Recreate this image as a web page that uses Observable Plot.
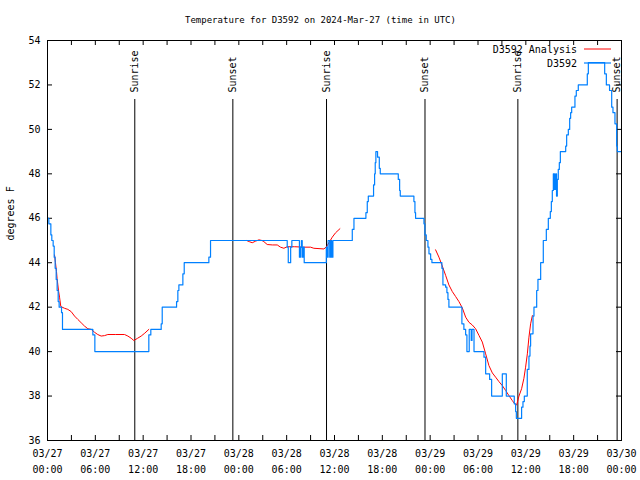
<!DOCTYPE html>
<html>
<head>
<meta charset="utf-8">
<script src="https://cdn.jsdelivr.net/npm/d3@7"></script>
<script src="https://cdn.jsdelivr.net/npm/@observablehq/plot@0.6"></script>
<style>
  html, body { margin: 0; padding: 0; background: white; }
</style>
</head>
<body>
<div id="chart"></div>
<script>
// ---- data (hours since 2024-03-27 00:00 UTC, degrees F) ----
const titleText = "Temperature for D3592 on 2024-Mar-27 (time in UTC)";
const yLabel = "degrees F";
const seriesNames = ["D3592 Analysis", "D3592"];

const xTickHours = [0, 6, 12, 18, 24, 30, 36, 42, 48, 54, 60, 66, 72];
const xTickDates = ["03/27","03/27","03/27","03/27","03/28","03/28","03/28","03/28","03/29","03/29","03/29","03/29","03/30"];
const xTickTimes = ["00:00","06:00","12:00","18:00","00:00","06:00","12:00","18:00","00:00","06:00","12:00","18:00","00:00"];
const xMinorHours = [0,3,6,9,12,15,18,21,24,27,30,33,36,39,42,45,48,51,54,57,60,63,66,69,72];
const yTicks = [36, 38, 40, 42, 44, 46, 48, 50, 52, 54];

const sunHours = [10.95, 23.25, 35.0, 47.35, 59.0, 71.45];
const sunLabels = ["Sunrise", "Sunset", "Sunrise", "Sunset", "Sunrise", "Sunset"];

// observed station temperature (step data)
const observed = [
  [0,46],[0.17,45.75],[0.42,45.25],[0.54,45],[0.71,44.75],[0.84,44.25],[0.96,43.75],[1.09,43.25],
  [1.21,42.75],[1.34,42.25],[1.46,42],[1.76,41.75],[1.88,41],[5.69,40.75],[5.94,40],[12.71,40.75],
  [12.96,41],[14.26,41.25],[14.39,42],[16.19,42.25],[16.35,42.75],[16.48,43],[16.98,43.5],[17.15,44],
  [20.24,44.25],[20.45,45],
  [30.07,44.7],[30.2,44],[30.5,44.7],[30.65,45],[31.6,44.25],[31.75,44.7],[31.85,45],[31.95,44.25],
  [32.1,44.7],[32.2,44],[34.97,44.7],[35.1,44.25],[35.2,45],[35.4,44.25],[35.55,45],[35.65,44.25],[35.8,45],
  [38.23,45.5],[38.44,46],[39.94,46.25],[40.11,46.75],[40.24,47],[40.9,47.5],[41.03,48],[41.11,48.5],
  [41.19,49],[41.4,48.75],[41.62,48.25],[41.74,48],[44.0,47.75],[44.17,47.25],[44.25,47],[45.96,46.75],
  [46.09,46.25],[46.17,46],[47.22,45.75],[47.34,45.25],[47.51,45],[47.72,44.7],[47.85,44.4],[48.06,44.15],[48.22,44],
  [49.47,43.75],[49.6,43],[49.94,42.9],[50.1,42.65],[50.23,42.35],[50.35,42],[51.98,41.25],[52.23,41],
  [52.45,40.75],[52.61,40],[52.9,41],[53.15,40.5],[53.25,41],[53.5,40],[54.75,39.75],[54.96,39],
  [55.46,38.75],[55.71,38],[57.05,39],[57.55,38],[58.55,37.65],[58.72,37.3],[58.81,37],[59.47,37.5],
  [59.64,37.75],[59.81,38],
  [60.18,39.2],[60.39,39.8],[60.52,40.25],[60.6,40.8],[60.9,41.6],[61.02,42],[61.36,42.75],[61.52,43.25],
  [61.86,44],[62.19,45],[62.57,45.5],[62.82,46],[63.07,46.3],[63.2,46.75],[63.32,47.25],[63.45,48],
  [63.6,47.3],[63.75,48],[63.85,47],[63.95,47.75],[64.07,48.2],[64.2,48.5],[64.33,49],
  [65.0,49.25],[65.12,49.75],[65.33,50],[65.5,50.5],[65.62,50.75],[65.75,51],[66.16,51.5],[66.33,51.75],
  [66.58,52],[67.71,52.5],[67.84,53],[69.89,52.5],[70.1,52],[70.5,51.75],[70.77,51],[70.93,50.75],
  [71.18,50.25],[71.39,49.25],[71.48,49],[72,49]
];

// analysis (three separate segments)
const analysis1 = [
  [0.88,44.35],[1.0,44.0],[1.13,43.6],[1.2,43.3],[1.3,43.0],[1.4,42.7],[1.51,42.45],[1.67,42.03],
  [2.13,41.95],[2.55,41.9],[2.97,41.8],[3.39,41.6],[3.8,41.45],[4.22,41.3],[4.64,41.15],[5.06,41.03],
  [5.48,41.0],[5.9,40.87],[6.3,40.77],[6.73,40.7],[7.15,40.72],[7.57,40.77],[8.5,40.77],[9.66,40.77],
  [10.08,40.7],[10.5,40.6],[10.83,40.5],[11.3,40.6],[11.75,40.7],[12.2,40.83],[12.71,41.0]
];
const analysis2 = [
  [24.97,45.0],[25.3,44.95],[25.68,44.9],[26.1,44.97],[26.52,45.03],[26.9,45.0],[27.14,44.95],[27.56,44.82],
  [28.2,44.8],[28.82,44.8],[29.23,44.7],[29.65,44.65],[30.07,44.72],[31.0,44.72],[32.16,44.7],[33.0,44.7],
  [33.41,44.65],[34.67,44.62],[35.0,44.72],[35.3,44.9],[35.72,45.15],[36.14,45.35],[36.68,45.53]
];
const analysis3 = [
  [48.68,44.58],[49.1,44.25],[49.52,43.85],[49.94,43.43],[50.35,43.0],[50.78,42.7],[51.19,42.48],[51.61,42.25],
  [52.03,41.97],[52.45,41.55],[52.86,41.32],[53.28,41.2],[53.7,41.03],[54.12,40.73],[54.54,40.43],[54.96,39.9],
  [55.37,39.37],[55.8,39.04],[56.21,38.85],[56.63,38.65],[57.05,38.47],[57.47,38.25],[57.88,38.02],[58.3,37.8],
  [58.6,37.65],[58.85,37.6],[59.14,38.0],[59.47,38.33],[59.76,38.8],[59.97,39.3],[60.19,39.9],[60.39,40.65],
  [60.6,41.25],[60.82,41.62]
];

// ---- build ----
const analysisRows = [analysis1, analysis2, analysis3].flatMap((seg, k) => seg.map(([t, v]) => ({t, v, seg: k})));
const obsRows = observed.map(([t, v]) => ({t, v}));
const idx = xTickHours.map((_, i) => i);
const sunIdx = sunHours.map((_, i) => i);

const FONT = "'DejaVu Sans Mono', 'Liberation Mono', monospace";
const RED = "#ff0000";
const BLUE = "#0080ff";

const svg = Plot.plot({
  width: 640,
  height: 480,
  marginLeft: 47,
  marginRight: 19,
  marginTop: 40,
  marginBottom: 40,
  x: {domain: [0, 72], axis: null},
  y: {domain: [36, 54], axis: null},
  style: {fontFamily: FONT, fontSize: "10px", background: "white", color: "black", overflow: "visible"},
  marks: [
    // sunrise / sunset lines and labels
    Plot.ruleX(sunHours, {x: d => d, insetTop: 59, stroke: "black", strokeWidth: 1}),
    Plot.text(sunIdx, {x: i => sunHours[i], text: i => sunLabels[i], frameAnchor: "top", dy: 52,
      rotate: -90, textAnchor: "start", lineAnchor: "middle", fill: "black"}),
    // ticks (inward, mirrored)
    Plot.tickX(xMinorHours, {x: d => d, insetTop: 395, stroke: "black"}),
    Plot.tickX(xMinorHours, {x: d => d, insetBottom: 395, stroke: "black"}),
    Plot.tickY(yTicks, {y: d => d, insetRight: 569, stroke: "black"}),
    Plot.tickY(yTicks, {y: d => d, insetLeft: 569, stroke: "black"}),
    // tick labels
    Plot.text(idx, {x: i => xTickHours[i], text: i => xTickDates[i], frameAnchor: "bottom", dy: 13, lineAnchor: "middle", fill: "black"}),
    Plot.text(idx, {x: i => xTickHours[i], text: i => xTickTimes[i], frameAnchor: "bottom", dy: 29, lineAnchor: "middle", fill: "black"}),
    Plot.text(yTicks, {y: d => d, text: d => String(d), frameAnchor: "left", dx: -7, textAnchor: "end", lineAnchor: "middle", fill: "black"}),
    // data
    Plot.line(analysisRows, {x: "t", y: "v", z: "seg", stroke: RED, strokeWidth: 1}),
    Plot.line(obsRows, {x: "t", y: "v", curve: "step-after", stroke: BLUE, strokeWidth: 1.2}),
    // frame
    Plot.frame({stroke: "black"}),
    // title and y label
    Plot.text([titleText], {text: d => d, frameAnchor: "top", dy: -20, dx: -14, lineAnchor: "middle", fill: "black", fontSize: 9}),
    Plot.text([yLabel], {text: d => d, frameAnchor: "left", dx: -37, rotate: -90, lineAnchor: "middle", fill: "black"})
  ]
});

// legend (top right, inside the frame)
const lg = d3.select(svg).append("g").attr("font-family", FONT).attr("font-size", "10px");
const legendColors = [RED, BLUE];
seriesNames.forEach((name, i) => {
  const yy = 49 + i * 14;
  lg.append("text").attr("x", 577).attr("y", yy).attr("dy", "0.35em").attr("text-anchor", "end").attr("fill", "black").text(name);
  lg.append("line").attr("x1", 584).attr("x2", 611).attr("y1", yy).attr("y2", yy).attr("stroke", legendColors[i]).attr("stroke-width", i === 1 ? 1.2 : 1);
});

document.getElementById("chart").appendChild(svg);
</script>
</body>
</html>
